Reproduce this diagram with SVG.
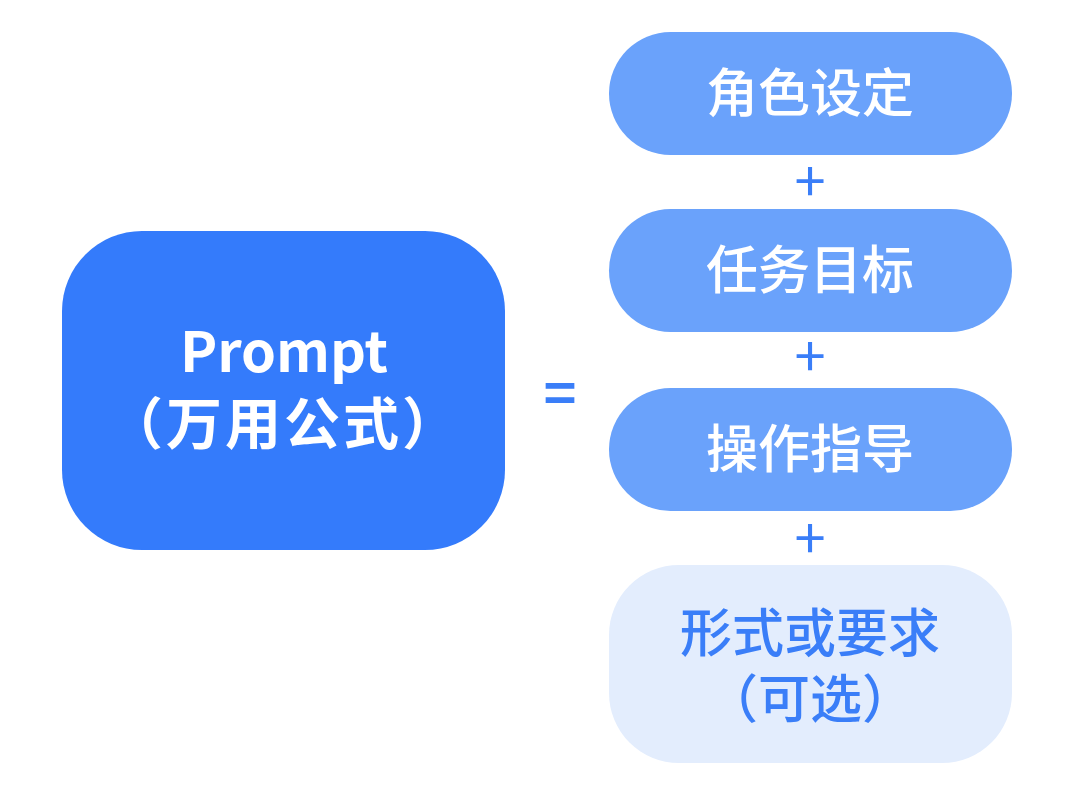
<svg xmlns="http://www.w3.org/2000/svg" width="1080" height="795" viewBox="0 0 1080 795">
<style>
text{font-family:"Noto Sans CJK SC","Noto Sans",sans-serif;text-anchor:middle}
.pill{fill:#6aa2fb}
.pt{fill:#fff;font-size:52px;font-weight:500}
.plus{fill:#3a7ef8;font-size:56px}
</style>
<rect width="1080" height="795" fill="#fff"/>
<g id="main"><rect x="62" y="231" width="443" height="319" rx="80" fill="#347bfb"/>
<text x="284" y="372" fill="#fff" font-size="56" font-weight="700">Prompt</text>
<text x="284" y="444" fill="#fff" font-size="56" font-weight="700" letter-spacing="3">（万用公式）</text></g>
<g id="connectors">
<text x="560" y="414" class="plus" font-size="90" font-weight="700">=</text>
<text x="810" y="202" class="plus">+</text>
<text x="810" y="377" class="plus">+</text>
<text x="810" y="559" class="plus">+</text></g>
<g id="n1"><rect x="609" y="32" width="403" height="123" rx="61.5" class="pill"/><text x="810" y="112" class="pt">角色设定</text></g>
<g id="n2"><rect x="609" y="209" width="403" height="123" rx="61.5" class="pill"/><text x="810" y="289" class="pt">任务目标</text></g>
<g id="n3"><rect x="609" y="388" width="403" height="123" rx="61.5" class="pill"/><text x="810" y="468" class="pt">操作指导</text></g>
<g id="n4"><rect x="609" y="565" width="403" height="198" rx="70" fill="#e3edfd"/><text x="810" y="652" class="pt" style="fill:#3a7ef8">形式或要求</text><text x="810" y="718" class="pt" style="fill:#3a7ef8">（可选）</text></g>
</svg>
